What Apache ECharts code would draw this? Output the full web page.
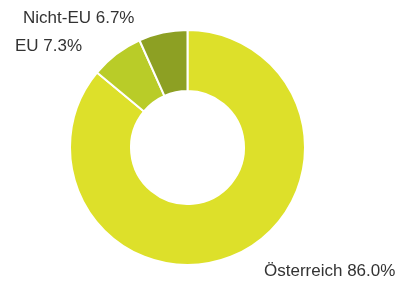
<!DOCTYPE html>
<html style="height: 100%">
<head>
    <meta charset="utf-8">
    <title>ECharts</title>
    <script src="https://cdn.jsdelivr.net/npm/echarts@6/dist/echarts.min.js"></script>
</head>
<body style="height: 100%; margin: 0">
    <div id="main" style="width: 406px; height: 284px"></div>
<script type="text/javascript">
    var categories = ['Österreich', 'EU', 'Nicht-EU'];
    var shares = [86.0, 7.3, 6.7];
    var colors = ['#dde02a', '#b9cc28', '#8da023'];
    // where each label sits (left x, middle y)
    var labelPos = [[264, 271], [15, 46], [23, 18]];

    var data = [];
    for (var i = 0; i < categories.length; i++) {
        data.push({ name: categories[i], value: shares[i], itemStyle: { color: colors[i] } });
    }

    var myChart = echarts.init(document.getElementById('main'));
    var option = {
        backgroundColor: '#fff',
        animation: false,
        series: [{
            type: 'pie',
            center: [187.5, 147.5],
            radius: [56.5, 117.5],
            startAngle: 90,
            clockwise: true,
            data: data,
            itemStyle: { borderColor: '#fff', borderWidth: 2 },
            label: {
                show: true,
                color: '#333',
                fontFamily: 'Liberation Sans, Arial, sans-serif',
                fontSize: 17,
                overflow: 'none',
                width: 200,
                formatter: function (p) {
                    return p.name + ' ' + p.value.toFixed(1) + '%';
                }
            },
            labelLine: { show: false },
            labelLayout: function (p) {
                var pos = labelPos[p.dataIndex];
                return { x: pos[0], y: pos[1], align: 'left', verticalAlign: 'middle' };
            }
        }]
    };
    myChart.setOption(option);
</script>
</body>
</html>
